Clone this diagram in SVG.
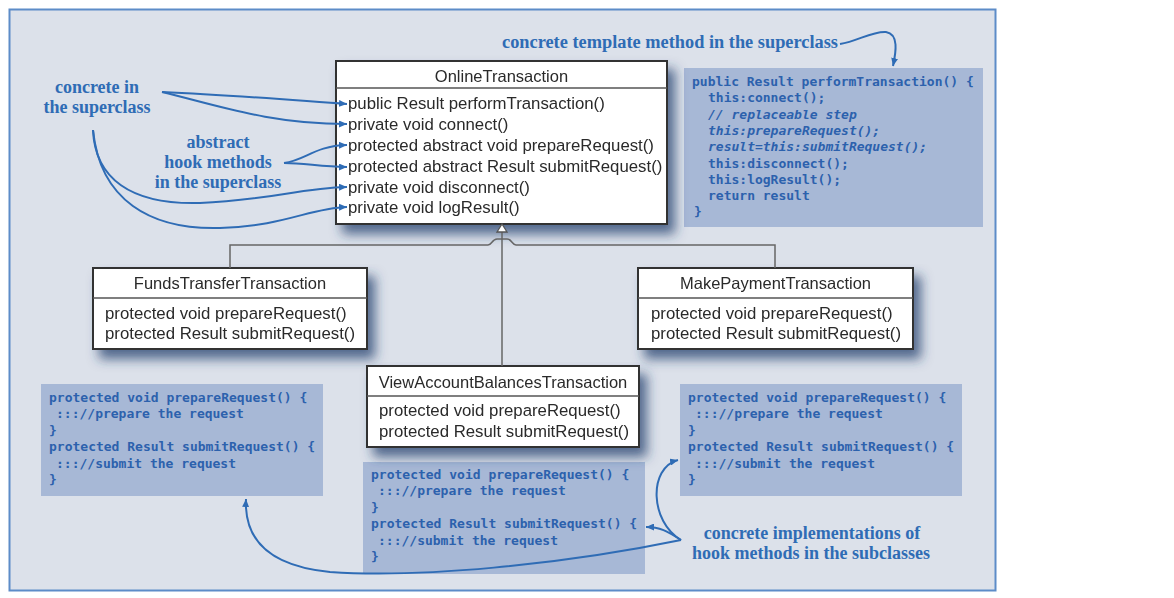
<svg xmlns="http://www.w3.org/2000/svg" width="1174" height="598" viewBox="0 0 1174 598">
  <style>
    .panel { fill: #dce1ea; stroke: #5d8cc8; stroke-width: 2; }
    .box { fill: #ffffff; stroke: #333333; stroke-width: 2; }
    .divider { stroke: #555555; stroke-width: 1.6; }
    .title { font-family: "Liberation Sans", Arial, sans-serif; font-size: 16.5px; fill: #2a2a2a; text-anchor: middle; }
    .member { font-family: "Liberation Sans", Arial, sans-serif; font-size: 16.8px; fill: #2a2a2a; }
    .code { fill: #a7b8d6; }
    .src { font-family: "DejaVu Sans Mono", "Liberation Mono", monospace; font-size: 13px; font-weight: bold; fill: #2c61ad; }
    .src .it { font-style: italic; }
    .note { font-family: "Liberation Serif", "DejaVu Serif", serif; font-size: 18px; font-weight: bold; fill: #2f6cb5; text-anchor: middle; }
    .gen { fill: none; stroke: #666666; stroke-width: 1.5; }
    .call { fill: none; stroke: #2f6cb5; stroke-width: 2; }
  </style>
  <defs>
    <filter id="shadow" x="-10%" y="-15%" width="130%" height="150%">
      <feGaussianBlur in="SourceAlpha" stdDeviation="6"/>
      <feOffset dx="7" dy="9" result="blur"/>
      <feFlood flood-color="#23406e" flood-opacity="0.75"/>
      <feComposite in2="blur" operator="in"/>
      <feMerge>
        <feMergeNode/>
        <feMergeNode in="SourceGraphic"/>
      </feMerge>
    </filter>
    <marker id="ah" viewBox="0 0 8 7" refX="8" refY="3.5" markerWidth="8" markerHeight="7" markerUnits="userSpaceOnUse" orient="auto">
      <path d="M0,0 L8,3.5 L0,7 Z" fill="#2f6cb5"/>
    </marker>
  </defs>

  <rect width="1174" height="598" fill="#ffffff"/>
  <rect class="panel" x="9.5" y="9.5" width="986" height="581"/>

  <!-- code snippets -->
  <g id="code-template">
    <rect class="code" x="684" y="68" width="299" height="159"/>
    <text class="src">
      <tspan x="692" y="86">public Result performTransaction() {</tspan>
      <tspan x="708" y="102.3">this:connect();</tspan>
      <tspan x="708" y="118.6" class="it">// replaceable step</tspan>
      <tspan x="708" y="134.9" class="it">this:prepareRequest();</tspan>
      <tspan x="708" y="151.2" class="it">result=this:submitRequest();</tspan>
      <tspan x="708" y="167.5">this:disconnect();</tspan>
      <tspan x="708" y="183.8">this:logResult();</tspan>
      <tspan x="708" y="200.1">return result</tspan>
      <tspan x="694" y="216.4">}</tspan>
    </text>
  </g>
  <g id="code-funds">
    <rect class="code" x="41" y="384" width="282" height="112"/>
    <text class="src">
      <tspan x="49" y="401.5">protected void prepareRequest() {</tspan>
      <tspan x="56" y="418">:::/</tspan><tspan>/prepare the request</tspan>
      <tspan x="49" y="434.5">}</tspan>
      <tspan x="49" y="451">protected Result submitRequest() {</tspan>
      <tspan x="56" y="467.5">:::/</tspan><tspan>/submit the request</tspan>
      <tspan x="49" y="484">}</tspan>
    </text>
  </g>
  <g id="code-view">
    <rect class="code" x="363" y="462" width="282" height="112"/>
    <text class="src">
      <tspan x="371" y="478.5">protected void prepareRequest() {</tspan>
      <tspan x="378" y="495">:::/</tspan><tspan>/prepare the request</tspan>
      <tspan x="371" y="511.5">}</tspan>
      <tspan x="371" y="528">protected Result submitRequest() {</tspan>
      <tspan x="378" y="544.5">:::/</tspan><tspan>/submit the request</tspan>
      <tspan x="371" y="561">}</tspan>
    </text>
  </g>
  <g id="code-payment">
    <rect class="code" x="680" y="384" width="282" height="112"/>
    <text class="src">
      <tspan x="688" y="401.5">protected void prepareRequest() {</tspan>
      <tspan x="695" y="418">:::/</tspan><tspan>/prepare the request</tspan>
      <tspan x="688" y="434.5">}</tspan>
      <tspan x="688" y="451">protected Result submitRequest() {</tspan>
      <tspan x="695" y="467.5">:::/</tspan><tspan>/submit the request</tspan>
      <tspan x="688" y="484">}</tspan>
    </text>
  </g>

  <!-- classes -->
  <g id="OnlineTransaction" filter="url(#shadow)">
    <rect class="box" x="336" y="61" width="331" height="163"/>
    <line class="divider" x1="336" y1="88" x2="667" y2="88"/>
    <text class="title" x="501.5" y="82">OnlineTransaction</text>
    <text class="member">
      <tspan x="348" y="109">public Result performTransaction()</tspan>
      <tspan x="348" y="130">private void connect()</tspan>
      <tspan x="348" y="151">protected abstract void prepareRequest()</tspan>
      <tspan x="348" y="171.5">protected abstract Result submitRequest()</tspan>
      <tspan x="348" y="192.5">private void disconnect()</tspan>
      <tspan x="348" y="213">private void logResult()</tspan>
    </text>
  </g>
  <g id="FundsTransferTransaction" filter="url(#shadow)">
    <rect class="box" x="93" y="268" width="274" height="81"/>
    <line class="divider" x1="93" y1="298" x2="367" y2="298"/>
    <text class="title" x="230" y="289">FundsTransferTransaction</text>
    <text class="member">
      <tspan x="105" y="319">protected void prepareRequest()</tspan>
      <tspan x="105" y="339">protected Result submitRequest()</tspan>
    </text>
  </g>
  <g id="MakePaymentTransaction" filter="url(#shadow)">
    <rect class="box" x="638" y="268" width="275" height="81"/>
    <line class="divider" x1="638" y1="298" x2="913" y2="298"/>
    <text class="title" x="775.5" y="289">MakePaymentTransaction</text>
    <text class="member">
      <tspan x="651" y="319">protected void prepareRequest()</tspan>
      <tspan x="651" y="339">protected Result submitRequest()</tspan>
    </text>
  </g>
  <g id="ViewAccountBalancesTransaction" filter="url(#shadow)">
    <rect class="box" x="367" y="366" width="272" height="81"/>
    <line class="divider" x1="367" y1="396" x2="639" y2="396"/>
    <text class="title" x="503" y="388">ViewAccountBalancesTransaction</text>
    <text class="member">
      <tspan x="379" y="416">protected void prepareRequest()</tspan>
      <tspan x="379" y="437">protected Result submitRequest()</tspan>
    </text>
  </g>

  <!-- inheritance and annotation connectors -->
  <g id="connectors">
    <path class="gen" d="M502,232 V366"/>
    <path class="gen" d="M230,268 V245 H488 C492,245 492,239 497,239 H507 C512,239 512,245 516,245 H775 V268"/>
    <path d="M502,224 L497,232 L507,232 Z" fill="#ffffff" stroke="#555555" stroke-width="1.3"/>

    <path class="call" marker-end="url(#ah)" d="M162,92 C230,95 290,100 347,104"/>
    <path class="call" marker-end="url(#ah)" d="M162,92 C220,106 270,124 347,124"/>
    <path class="call" marker-end="url(#ah)" d="M93,130 C95,178 130,205 200,203 C265,201 300,188 347,187"/>
    <path class="call" marker-end="url(#ah)" d="M93,130 C100,200 150,230 220,228 C285,226 310,208 347,207"/>
    <path class="call" marker-end="url(#ah)" d="M284,163 C306,160 314,146 347,145"/>
    <path class="call" marker-end="url(#ah)" d="M284,163 C306,163 320,167 347,167"/>

    <path class="call" marker-end="url(#ah)" d="M840,44 C858,41 872,31 886,32 C899,34 896,52 893,66"/>

    <path class="call" marker-end="url(#ah)" d="M681,540 C650,522 648,468 678,460"/>
    <path class="call" marker-end="url(#ah)" d="M681,540 C667,531 660,527 646,527"/>
    <path class="call" marker-end="url(#ah)" d="M681,540 C560,565 420,578 330,572 C270,566 244,540 246,499"/>
  </g>

  <!-- annotations -->
  <g id="note-concrete">
    <text class="note" x="97" y="93">concrete in</text>
    <text class="note" x="97" y="113">the superclass</text>
  </g>
  <g id="note-abstract">
    <text class="note" x="218" y="148">abstract</text>
    <text class="note" x="218" y="168">hook methods</text>
    <text class="note" x="218" y="188">in the superclass</text>
  </g>
  <g id="note-template">
    <text class="note" x="670" y="48" textLength="336" lengthAdjust="spacingAndGlyphs">concrete template method in the superclass</text>
  </g>
  <g id="note-implementations">
    <text class="note" x="812" y="539">concrete implementations of</text>
    <text class="note" x="811" y="559">hook methods in the subclasses</text>
  </g>
</svg>
